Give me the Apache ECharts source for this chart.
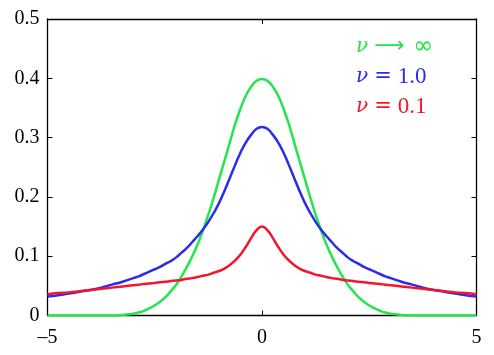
<!DOCTYPE html>
<html>
<head>
<meta charset="utf-8">
<script src="https://cdn.jsdelivr.net/npm/echarts@6/dist/echarts.min.js"></script>
<style>
  html, body { margin: 0; padding: 0; background: #fff; }
  #chart { width: 494px; height: 355px; }
</style>
</head>
<body>
<div id="chart"></div>
<script>
// x positions: 0.25 steps in the tails, 0.125 steps in the middle
const xs = [-5, -4.75, -4.5, -4.25, -4, -3.75, -3.5, -3.25,
  -3, -2.875, -2.75, -2.625, -2.5, -2.375, -2.25, -2.125, -2, -1.875, -1.75, -1.625, -1.5, -1.375, -1.25, -1.125,
  -1, -0.875, -0.75, -0.625, -0.5, -0.375, -0.25, -0.125, 0, 0.125, 0.25, 0.375, 0.5, 0.625, 0.75, 0.875,
  1, 1.125, 1.25, 1.375, 1.5, 1.625, 1.75, 1.875, 2, 2.125, 2.25, 2.375, 2.5, 2.625, 2.75, 2.875, 3,
  3.25, 3.5, 3.75, 4, 4.25, 4.5, 4.75, 5];

// nu -> infinity
const nuInf = [0, 0, 0, 0, 0, 0, 0, 0.001,
  0.003, 0.005, 0.008, 0.012, 0.017, 0.023, 0.031, 0.041, 0.052, 0.066, 0.082, 0.100, 0.120, 0.144, 0.170, 0.199,
  0.230, 0.261, 0.292, 0.323, 0.349, 0.371, 0.386, 0.396, 0.399, 0.396, 0.386, 0.371, 0.349, 0.323, 0.292, 0.261,
  0.230, 0.199, 0.170, 0.144, 0.120, 0.100, 0.082, 0.066, 0.052, 0.041, 0.031, 0.023, 0.017, 0.012, 0.008, 0.005, 0.003,
  0.001, 0, 0, 0, 0, 0, 0, 0];

// nu = 1.0
const nu1 = [0.032, 0.034, 0.037, 0.040, 0.043, 0.047, 0.052, 0.057,
  0.063, 0.066, 0.070, 0.074, 0.078, 0.082, 0.087, 0.092, 0.098, 0.106, 0.114, 0.124, 0.134, 0.145, 0.158, 0.173,
  0.190, 0.210, 0.232, 0.254, 0.275, 0.292, 0.305, 0.315, 0.318, 0.315, 0.305, 0.292, 0.275, 0.254, 0.232, 0.210,
  0.190, 0.173, 0.158, 0.145, 0.134, 0.124, 0.114, 0.106, 0.098, 0.092, 0.087, 0.082, 0.078, 0.074, 0.070, 0.066, 0.063,
  0.057, 0.052, 0.047, 0.043, 0.040, 0.037, 0.034, 0.032];

// nu = 0.1
const nu01 = [0.036, 0.038, 0.039, 0.041, 0.043, 0.045, 0.047, 0.049,
  0.051, 0.052, 0.053, 0.054, 0.055, 0.056, 0.057, 0.058, 0.059, 0.060, 0.062, 0.063, 0.065, 0.067, 0.069, 0.072,
  0.075, 0.079, 0.085, 0.093, 0.103, 0.116, 0.131, 0.144, 0.150, 0.144, 0.131, 0.116, 0.103, 0.093, 0.085, 0.079,
  0.075, 0.072, 0.069, 0.067, 0.065, 0.063, 0.062, 0.060, 0.059, 0.058, 0.057, 0.056, 0.055, 0.054, 0.053, 0.052, 0.051,
  0.049, 0.047, 0.045, 0.043, 0.041, 0.039, 0.038, 0.036];

const yTicks = [0, 0.1, 0.2, 0.3, 0.4, 0.5];

const serif = '"Liberation Serif", "DejaVu Serif", serif';
const pairs = arr => xs.map((x, i) => [x, arr[i]]);

const chart = echarts.init(document.getElementById('chart'));

const lineAxis = { show: true, onZero: false, lineStyle: { color: '#000', width: 1.3 } };
const tick = { show: true, inside: true, length: 5, lineStyle: { color: '#000', width: 1 } };

chart.setOption({
  animation: false,
  grid: { left: 47.5, right: 17.5, top: 19, bottom: 39.5 },
  xAxis: [
    {
      type: 'value', min: -5, max: 5, interval: 5,
      axisLine: lineAxis, axisTick: tick, splitLine: { show: false },
      axisLabel: {
        color: '#000', fontFamily: serif, fontSize: 20, margin: 12,
        formatter: v => String(v).replace('-', '\u2013')
      }
    },
    {
      type: 'value', position: 'top', min: -5, max: 5, interval: 5,
      axisLine: lineAxis, axisTick: tick, splitLine: { show: false },
      axisLabel: { show: false }
    }
  ],
  yAxis: [
    {
      type: 'value', min: 0, max: 0.5, interval: 0.1,
      axisLine: lineAxis, axisTick: tick, splitLine: { show: false },
      axisLabel: {
        color: '#000', fontFamily: serif, fontSize: 20, margin: 8,
        formatter: v => yTicks.includes(+v.toFixed(1)) ? String(+v.toFixed(1)) : ''
      }
    },
    {
      type: 'value', position: 'right', min: 0, max: 0.5, interval: 0.1,
      axisLine: lineAxis, axisTick: tick, splitLine: { show: false },
      axisLabel: { show: false }
    }
  ],
  series: [
    {
      name: 'nu inf', type: 'line', data: pairs(nuInf), smooth: 0.5, showSymbol: false,
      lineStyle: { color: '#22e64a', width: 2.5 }, z: 3
    },
    {
      name: 'nu 1.0', type: 'line', data: pairs(nu1), smooth: 0.5, showSymbol: false,
      lineStyle: { color: '#2b2bee', width: 2.5 }, z: 4
    },
    {
      name: 'nu 0.1', type: 'line', data: pairs(nu01), smooth: 0.5, showSymbol: false,
      lineStyle: { color: '#f5142d', width: 2.5 }, z: 5
    }
  ],
  graphic: [
    { op: '\u27f6', rest: '{f|\u221e}', color: '#22e64a', y: 48 },
    { op: '=', rest: '{r|1.0}', color: '#2b2bee', y: 78 },
    { op: '=', rest: '{r|0.1}', color: '#f5142d', y: 108 }
  ].map(item => ({
    type: 'text',
    left: 356,
    top: item.y - 13,
    style: {
      text: '{i|\u03bd}{o|' + item.op + '}' + item.rest,
      fill: item.color,
      font: '21px ' + serif,
      rich: {
        i: { fontStyle: 'italic', fontFamily: '"DejaVu Serif", serif', fontSize: 20, fill: item.color },
        o: { fontFamily: '"DejaVu Sans", sans-serif', fontSize: 21, fill: item.color, padding: [0, 5, 0, 6] },
        r: { fontFamily: serif, fontSize: 23, fill: item.color, padding: [0, 0, 0, 1] },
        f: { fontFamily: '"DejaVu Sans", sans-serif', fontSize: 24, fill: item.color, padding: [0, 0, 0, 4] }
      }
    }
  }))
});
</script>
</body>
</html>
